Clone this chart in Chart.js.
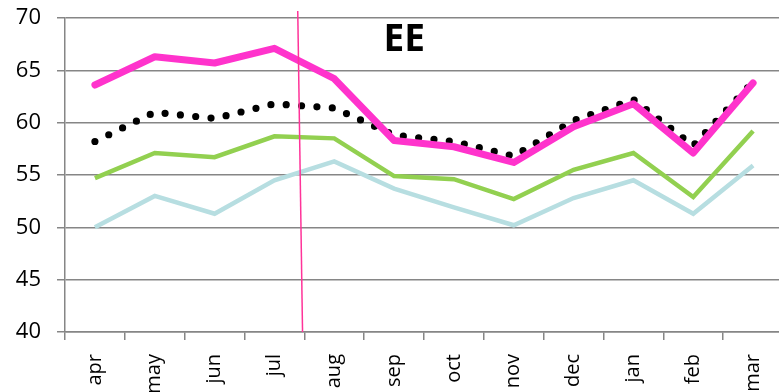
<!DOCTYPE html>
<html>
<head>
<meta charset="utf-8">
<script src="https://cdn.jsdelivr.net/npm/chart.js@4/dist/chart.umd.min.js"></script>
<style>
  html, body { margin: 0; padding: 0; background: #fff; overflow: hidden; }
  #wrap { width: 779px; height: 392px; overflow: hidden; }
</style>
</head>
<body>
<div id="wrap"><canvas id="eeChart" width="783" height="392"></canvas></div>
<script>
const months = ['apr', 'may', 'jun', 'jul', 'aug', 'sep', 'oct', 'nov', 'dec', 'jan', 'feb', 'mar'];
const yTicks = [40, 45, 50, 55, 60, 65, 70];

const pinkSeries  = [63.6, 66.3, 65.7, 67.1, 64.2, 58.3, 57.7, 56.2, 59.6, 61.8, 57.1, 63.8];
const dotSeries   = [58.2, 61.0, 60.4, 61.8, 61.4, 58.8, 58.2, 56.8, 60.2, 62.2, 57.8, 63.9];
const greenSeries = [54.7, 57.1, 56.7, 58.7, 58.5, 54.9, 54.6, 52.7, 55.5, 57.1, 52.9, 59.2];
const blueSeries  = [50.0, 53.0, 51.3, 54.5, 56.3, 53.7, 51.9, 50.2, 52.8, 54.5, 51.3, 55.9];

// marker between jul and aug, slightly slanted (category index at top / bottom)
const markerTop = 3.39;
const markerBottom = 3.47;

const FONT = '"Open Sans", "Noto Sans", sans-serif';

const overlay = {
  id: 'overlay',
  afterDatasetsDraw(chart) {
    const { ctx, chartArea, scales } = chart;
    const x = scales.x;
    ctx.save();
    ctx.strokeStyle = '#ff3399';
    ctx.lineWidth = 1.5;
    ctx.beginPath();
    ctx.moveTo(x.getPixelForValue(markerTop), chartArea.top - 7);
    ctx.lineTo(x.getPixelForValue(markerBottom), chartArea.bottom);
    ctx.stroke();

    ctx.fillStyle = '#000';
    ctx.font = 'bold 37px ' + FONT;
    ctx.textAlign = 'center';
    ctx.textBaseline = 'middle';
    ctx.fillText('EE', x.getPixelForValue(5.17), chartArea.top + 22);
    ctx.restore();
  }
};

function lineSet(data, color, width, extra) {
  return Object.assign({
    data: data,
    borderColor: color,
    borderWidth: width,
    pointRadius: 0,
    tension: 0,
    fill: false,
    borderJoinStyle: 'miter'
  }, extra || {});
}

new Chart(document.getElementById('eeChart'), {
  type: 'line',
  data: {
    labels: months,
    datasets: [
      lineSet(pinkSeries, '#ff33cc', 7, { borderJoinStyle: 'round', borderCapStyle: 'round' }),
      lineSet(dotSeries, '#000000', 7.2, { borderDash: [0, 15.4], borderCapStyle: 'round' }),
      lineSet(greenSeries, '#92d050', 4.5),
      lineSet(blueSeries, '#b7dee1', 4.5)
    ]
  },
  options: {
    responsive: false,
    animation: false,
    events: [],
    layout: { padding: { top: 18, right: 0, left: 0, bottom: 0 } },
    plugins: {
      legend: { display: false },
      title: { display: false },
      tooltip: { enabled: false }
    },
    scales: {
      x: {
        offset: true,
        afterFit(scale) {
          scale.height = 60;
          scale.paddingLeft = 0;
          scale.paddingRight = 0;
        },
        grid: {
          offset: true,
          drawOnChartArea: false,
          drawTicks: true,
          tickLength: 8,
          color: '#868686',
          lineWidth: 1.5
        },
        border: { display: true, color: '#868686', width: 1.5 },
        ticks: {
          color: '#000',
          font: { family: FONT, size: 20 },
          minRotation: 90,
          maxRotation: 90,
          padding: 14
        }
      },
      y: {
        min: 40,
        max: 70,
        afterFit(scale) {
          scale.width = 65;
          scale.paddingTop = 0;
          scale.paddingBottom = 0;
        },
        afterBuildTicks(scale) { scale.ticks = yTicks.map(v => ({ value: v })); },
        grid: {
          color: '#868686',
          lineWidth: 1.5,
          tickLength: 8
        },
        border: { display: true, color: '#868686', width: 1.5 },
        ticks: {
          color: '#000',
          font: { family: FONT, size: 22 },
          padding: 16
        }
      }
    }
  },
  plugins: [overlay]
});
</script>
</body>
</html>
